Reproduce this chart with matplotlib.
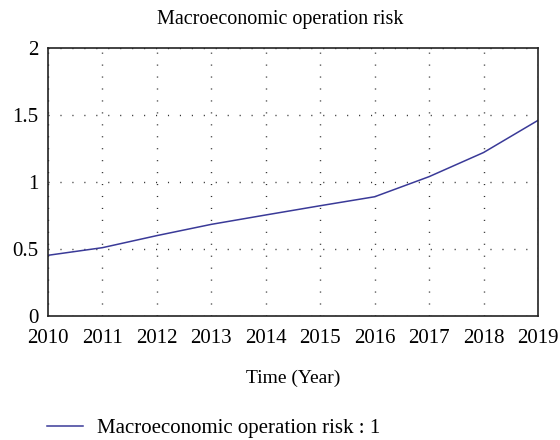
import matplotlib
matplotlib.use("Agg")
import matplotlib.pyplot as plt
from matplotlib.lines import Line2D

# values
years = [2010, 2011, 2012, 2013, 2014, 2015, 2016, 2017, 2018, 2019]
risk = [0.453, 0.51, 0.60, 0.684, 0.754, 0.823, 0.89, 1.04, 1.22, 1.46]
y_ticks = [0, 0.5, 1, 1.5, 2]
y_labels = ["0", "0.5", "1", "1.5", "2"]

plt.rcParams['font.family'] = ['Liberation Serif', 'DejaVu Serif']
line_color = "#3a3a98"

fig = plt.figure(figsize=(5.6, 4.4), dpi=100)
ax = fig.add_axes([0.0857, 0.2818, 0.875, 0.6091])

ax.plot(years, risk, color=line_color, lw=1.1)

ax.set_xlim(2010, 2019)
ax.set_ylim(0, 2)
ax.set_xticks(years)
ax.set_xticklabels([str(y) for y in years], fontsize=15)
ax.set_yticks(y_ticks)
ax.set_yticklabels(y_labels, fontsize=15)
ax.tick_params(axis="x", length=0, pad=9)
ax.tick_params(axis="y", length=0, pad=7)
ax.grid(True, color="#333333", linestyle=(0, (0.8, 7.8)), linewidth=1.0)
for sp in ax.spines.values():
    sp.set_linewidth(1.2)
    sp.set_color("#222222")

fig.text(0.5, 0.955, "Macroeconomic operation risk", fontsize=14.5,
         ha="center", va="center")
ax.set_xlabel("Time (Year)", fontsize=14, labelpad=16)

handle = Line2D([], [], color=line_color, lw=1.1)
fig.legend([handle], ["Macroeconomic operation risk : 1"], loc="center left",
           bbox_to_anchor=(0.05, 0.027), frameon=False, fontsize=15,
           handlelength=1.73, handletextpad=0.67)

fig.savefig("out.png", dpi=100)
